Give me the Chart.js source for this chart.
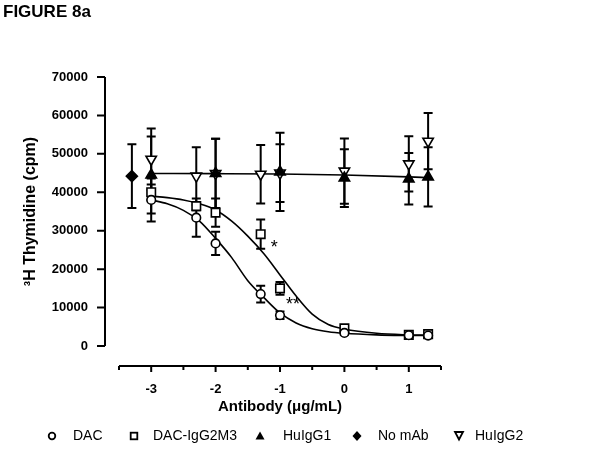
<!DOCTYPE html>
<html>
<head>
<meta charset="utf-8">
<script src="https://cdn.jsdelivr.net/npm/chart.js@4/dist/chart.umd.min.js"></script>
<style>
html,body{margin:0;padding:0;background:#fff;}
#wrap{position:relative;width:602px;height:458px;}
</style>
</head>
<body>
<div id="wrap"><canvas id="c" width="602" height="458"></canvas></div>
<script>
// ---- data (log10 antibody concentration, ug/mL) ----
const doseX = [-3, -2.3, -2, -1.3, -1, 0, 1, 1.3];
const dacMean = [38000, 33400, 26700, 13500, 8000, 3400, 2800, 2700];
const dacErr = [5600, 5000, 3000, 2200, 1000, 500, 300, 300];
const m3Mean = [40000, 36400, 34700, 29100, 15000, 4600, 2900, 3100];
const m3Err = [2000, 1100, 3700, 3800, 1650, 500, 400, 500];
const igg1X = [-3, -2, -1, 0, 1, 1.3];
const igg1Mean = [44500, 44900, 45300, 43700, 43500, 44000];
const igg1Err = [10000, 9000, 10200, 7500, 6700, 7700];
const igg2X = [-3, -2.3, -2, -1.3, -1, 0, 1, 1.3];
const igg2Mean = [48600, 44200, 44900, 44700, 45000, 45500, 47400, 53300];
const igg2Err = [8000, 7500, 9000, 7600, 7500, 8500, 7200, 7300];
const noMabX = [-3.3];
const noMabMean = [44200];
const noMabErr = [8300];

// fitted curves
const fitX = [-3, -2.75, -2.5, -2.25, -2, -1.75, -1.5, -1.25, -1, -0.75, -0.5, -0.25, 0, 0.5, 1, 1.3];
const dacFit = [38000, 37000, 35300, 32500, 28000, 23000, 17000, 12600, 8600, 6000, 4500, 3700, 3300, 2900, 2750, 2700];
const m3Fit = [39000, 38600, 38000, 37000, 35400, 32500, 28600, 24000, 18500, 13000, 8300, 5600, 4400, 3300, 2900, 2800];
const igg1FitX = [-3, -2, -1, 0, 1, 1.3];
const igg1Fit = [44900, 44850, 44750, 44500, 44000, 43800];

const xTicks = [-3, -2, -1, 0, 1];
const xMinorTicks = [-3.5, -2.5, -1.5, -0.5, 0.5, 1.5];
const yTicks = [0, 10000, 20000, 30000, 40000, 50000, 60000, 70000];
const legendLabels = ['DAC', 'DAC-IgG2M3', 'HuIgG1', 'No mAb', 'HuIgG2'];
const stars = [{x: -1.09, y: 26700, t: '*'}, {x: -0.80, y: 12000, t: '**'}];

function pts(xs, ys) { return xs.map((x, i) => ({x: x, y: ys[i]})); }

const FONT = 'Arial, "Liberation Sans", sans-serif';

const marker = (label, xs, ys, errs, style, r, fill, rot) => ({
  label: label, data: pts(xs, ys), errors: errs, showLine: false,
  pointStyle: style, pointRadius: r, pointRotation: rot || 0,
  pointBackgroundColor: fill, pointBorderColor: '#000', pointBorderWidth: 1.6,
  borderColor: '#000', backgroundColor: fill, order: 1
});
const fitLine = (xs, ys) => ({
  type: 'line', data: pts(xs, ys), showLine: true, pointRadius: 0,
  borderColor: '#000', borderWidth: 1.6, cubicInterpolationMode: 'monotone',
  fill: false, order: 10, isFit: true
});

const decor = {
  id: 'decor',
  beforeDatasetsDraw(chart) {
    const ctx = chart.ctx, xs = chart.scales.x, ys = chart.scales.y;
    ctx.save();
    ctx.strokeStyle = '#000';
    ctx.lineWidth = 2;
    chart.data.datasets.forEach(ds => {
      if (!ds.errors) return;
      ds.data.forEach((p, i) => {
        const e = ds.errors[i];
        const px = xs.getPixelForValue(p.x);
        const y1 = ys.getPixelForValue(p.y + e), y2 = ys.getPixelForValue(p.y - e);
        ctx.beginPath();
        ctx.moveTo(px, y1); ctx.lineTo(px, y2);
        ctx.moveTo(px - 4.5, y1); ctx.lineTo(px + 4.5, y1);
        ctx.moveTo(px - 4.5, y2); ctx.lineTo(px + 4.5, y2);
        ctx.stroke();
      });
    });
    ctx.restore();
  },
  afterDraw(chart) {
    const ctx = chart.ctx, xs = chart.scales.x, ys = chart.scales.y;
    ctx.save();
    ctx.strokeStyle = '#000';
    ctx.fillStyle = '#000';
    ctx.lineWidth = 2;
    // y axis (offset left of plot)
    const ax = chart.chartArea.left - 14;
    ctx.beginPath();
    ctx.moveTo(ax, ys.getPixelForValue(yTicks[0]));
    ctx.lineTo(ax, ys.getPixelForValue(yTicks[yTicks.length - 1]));
    yTicks.forEach(v => {
      const py = ys.getPixelForValue(v);
      ctx.moveTo(ax - 8, py); ctx.lineTo(ax, py);
    });
    ctx.stroke();
    // x axis (offset below plot)
    const ay = ys.getPixelForValue(0) + 20;
    ctx.beginPath();
    ctx.moveTo(xs.getPixelForValue(xMinorTicks[0]), ay);
    ctx.lineTo(xs.getPixelForValue(xMinorTicks[xMinorTicks.length - 1]), ay);
    xTicks.forEach(v => {
      const px = xs.getPixelForValue(v);
      ctx.moveTo(px, ay); ctx.lineTo(px, ay + 6);
    });
    xMinorTicks.forEach(v => {
      const px = xs.getPixelForValue(v);
      ctx.moveTo(px, ay); ctx.lineTo(px, ay + 4);
    });
    ctx.stroke();
    // significance stars
    ctx.font = '18px ' + FONT;
    ctx.textAlign = 'center';
    ctx.textBaseline = 'middle';
    stars.forEach(s => {
      ctx.fillText(s.t, xs.getPixelForValue(s.x), ys.getPixelForValue(s.y) + 5);
    });
    // figure title
    ctx.font = 'bold 17px ' + FONT;
    ctx.textAlign = 'left';
    ctx.textBaseline = 'alphabetic';
    ctx.fillText('FIGURE 8a', 3, 17);
    // legend
    const ly = 436;
    const mx = [52, 134, 260, 357, 459];
    const tx = [73, 153, 283, 378, 475];
    ctx.font = '14px ' + FONT;
    ctx.textBaseline = 'middle';
    ctx.lineWidth = 1.8;
    legendLabels.forEach((lab, i) => {
      const x = mx[i];
      ctx.beginPath();
      if (i === 0) { ctx.arc(x, ly, 3.3, 0, Math.PI * 2); ctx.stroke(); }
      else if (i === 1) { ctx.strokeRect(x - 3.3, ly - 3.3, 6.6, 6.6); }
      else if (i === 2) { ctx.moveTo(x, ly - 4.5); ctx.lineTo(x + 4.5, ly + 3.5); ctx.lineTo(x - 4.5, ly + 3.5); ctx.closePath(); ctx.fill(); }
      else if (i === 3) { ctx.moveTo(x, ly - 5); ctx.lineTo(x + 4.5, ly); ctx.lineTo(x, ly + 5); ctx.lineTo(x - 4.5, ly); ctx.closePath(); ctx.fill(); }
      else { ctx.moveTo(x - 4, ly - 4); ctx.lineTo(x + 4, ly - 4); ctx.lineTo(x, ly + 3.5); ctx.closePath(); ctx.stroke(); }
      ctx.fillText(lab, tx[i], ly);
    });
    ctx.restore();
  }
};

new Chart(document.getElementById('c'), {
  type: 'scatter',
  data: {
    datasets: [
      marker('DAC', doseX, dacMean, dacErr, 'circle', 4.3, '#fff'),
      marker('DAC-IgG2M3', doseX, m3Mean, m3Err, 'rect', 6, '#fff'),
      marker('HuIgG1', igg1X, igg1Mean, igg1Err, 'triangle', 6, '#000'),
      marker('No mAb', noMabX, noMabMean, noMabErr, 'rectRot', 5.5, '#000'),
      marker('HuIgG2', igg2X, igg2Mean, igg2Err, 'triangle', 6, '#fff', 180),
      fitLine(fitX, dacFit),
      fitLine(fitX, m3Fit),
      fitLine(igg1FitX, igg1Fit)
    ]
  },
  options: {
    responsive: false,
    animation: false,
    devicePixelRatio: 1,
    layout: {padding: {left: 0, right: 161, top: 77, bottom: 0}},
    plugins: {legend: {display: false}, tooltip: {enabled: false}},
    scales: {
      x: {
        type: 'linear', min: -3.5, max: 1.5,
        afterBuildTicks: s => { s.ticks = xTicks.map(v => ({value: v})); },
        afterFit: s => { s.height = 112; },
        grid: {display: false}, border: {display: false},
        ticks: {color: '#000', font: {family: FONT, size: 13, weight: 'bold'}, padding: 28,
                callback: v => String(v)},
        title: {display: true, text: 'Antibody (\u03bcg/mL)', color: '#000',
                font: {family: FONT, size: 15, weight: 'bold'}, padding: {top: 0, bottom: 42}}
      },
      y: {
        type: 'linear', min: 0, max: 70000,
        afterBuildTicks: s => { s.ticks = yTicks.map(v => ({value: v})); },
        afterFit: s => { s.width = 119; },
        grid: {display: false}, border: {display: false},
        ticks: {color: '#000', font: {family: FONT, size: 13, weight: 'bold'}, padding: 23,
                callback: v => String(v)},
        title: {display: true, text: '\u00b3H Thymidine (cpm)', color: '#000',
                font: {family: FONT, size: 16, weight: 'bold'}, padding: {top: 21, bottom: 0}}
      }
    }
  },
  plugins: [decor]
});
</script>
</body>
</html>
